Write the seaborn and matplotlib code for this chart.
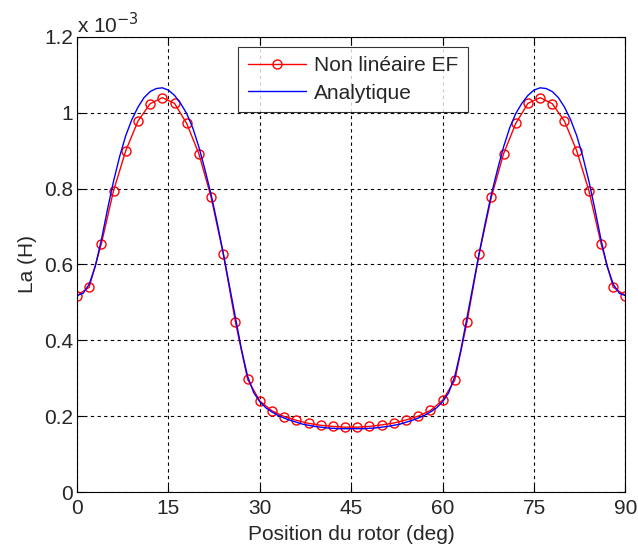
import numpy as np
import pandas as pd
import matplotlib
matplotlib.use("Agg")
import matplotlib.pyplot as plt
import seaborn as sns
from matplotlib.ticker import FuncFormatter

# Finite element (non linear) results, every 2 deg, in units of 1e-3 H
fe_pos = list(range(0, 91, 2))
fe_la = [0.518, 0.540, 0.655, 0.795, 0.900, 0.978, 1.024, 1.040, 1.025, 0.972,
         0.892, 0.778, 0.628, 0.448, 0.297, 0.240, 0.214, 0.199, 0.189, 0.181,
         0.176, 0.173, 0.171, 0.171, 0.173, 0.177, 0.182, 0.190, 0.200, 0.215,
         0.242, 0.295, 0.448, 0.628, 0.778, 0.892, 0.972, 1.025, 1.040, 1.024,
         0.978, 0.900, 0.795, 0.655, 0.540, 0.518]

# Analytic curve, every 1 deg, in units of 1e-3 H
an_pos = list(range(0, 91))
an_half = [0.518, 0.524, 0.548, 0.595, 0.665, 0.745, 0.820, 0.885, 0.940, 0.982,
           1.015, 1.040, 1.056, 1.064, 1.066, 1.060, 1.046, 1.025, 0.998, 0.960,
           0.910, 0.850, 0.785, 0.710, 0.630, 0.545, 0.460, 0.375, 0.305, 0.262,
           0.238, 0.222, 0.211, 0.202, 0.195, 0.189, 0.184, 0.179, 0.176, 0.173,
           0.171, 0.169, 0.168, 0.167, 0.167, 0.167]
an_la = an_half + an_half[-2::-1]

fe = pd.DataFrame({"pos": fe_pos, "La": np.array(fe_la) * 1e-3})
an = pd.DataFrame({"pos": an_pos, "La": np.array(an_la) * 1e-3})

sns.set_style("white")
plt.rcParams['font.family'] = ['Liberation Sans', 'DejaVu Sans']

fs = 15
fig = plt.figure(figsize=(6.38, 5.53), dpi=100)
ax = fig.add_axes([0.1207, 0.1103, 0.8596, 0.8228])

sns.lineplot(data=fe, x="pos", y="La", ax=ax, color="red", lw=1.0,
             marker="o", markersize=6.5, markerfacecolor="none",
             markeredgecolor="red", markeredgewidth=1.0, label="Non linéaire EF")
sns.lineplot(data=an, x="pos", y="La", ax=ax, color="blue", lw=1.0,
             label="Analytique")

ax.set_xlim(0, 90)
ax.set_ylim(0, 1.2e-3)
ax.set_xticks(range(0, 91, 15))
ax.set_yticks(np.arange(0, 1.21, 0.2) * 1e-3)
ax.yaxis.set_major_formatter(FuncFormatter(lambda v, p: "%g" % round(v * 1e3, 3)))

ax.grid(True, color="black", linestyle=(0, (3, 3)), linewidth=0.8)
ax.tick_params(direction="in", length=5, labelsize=fs, color="black",
               top=True, right=True, bottom=True, left=True)
ax.tick_params(axis="x", pad=5)
ax.tick_params(axis="y", pad=3)
for s in ax.spines.values():
    s.set_color("black")
    s.set_linewidth(0.8)

ax.set_xlabel("Position du rotor (deg)", fontsize=fs, labelpad=5)
ax.set_ylabel("La (H)", fontsize=fs, labelpad=5)
ax.text(0.0, 1.0, "x 10$^{-3}$", transform=ax.transAxes, fontsize=fs,
        ha="left", va="bottom")

leg = ax.legend(loc="upper left", bbox_to_anchor=(0.294, 0.978), fontsize=fs,
                handlelength=2.8, frameon=True, fancybox=False, borderpad=0.45,
                labelspacing=0.4, handletextpad=0.4, borderaxespad=0)
leg.get_frame().set_edgecolor("black")
leg.get_frame().set_linewidth(0.8)

fig.savefig("out.png", dpi=100)
